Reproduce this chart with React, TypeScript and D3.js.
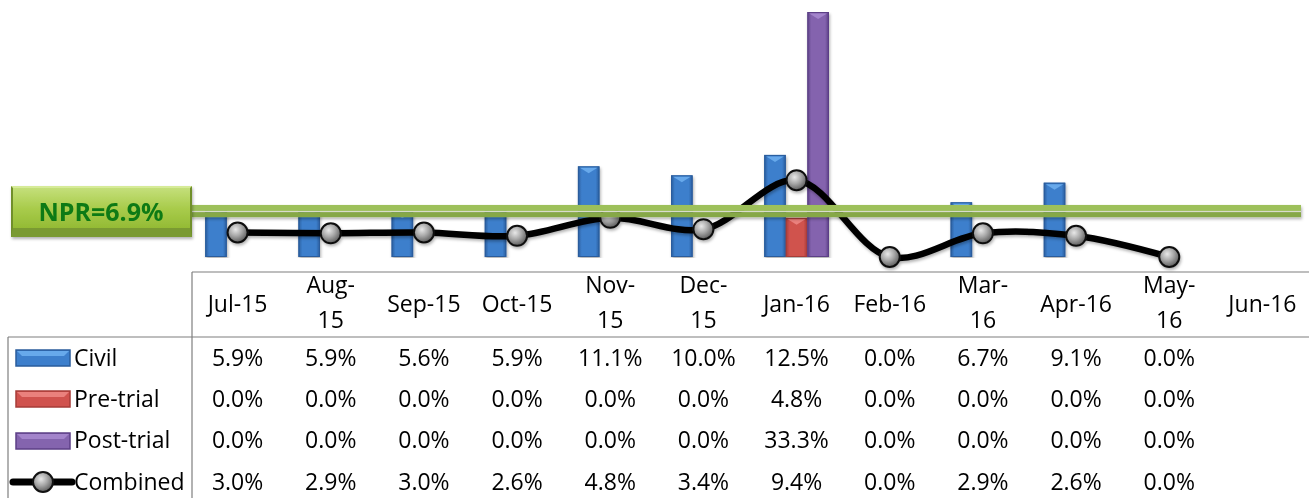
import * as d3 from 'd3';

// month columns of the data table
const categories = ['Jul-15', 'Aug-15', 'Sep-15', 'Oct-15', 'Nov-15', 'Dec-15', 'Jan-16', 'Feb-16', 'Mar-16', 'Apr-16', 'May-16', 'Jun-16'];
// how Excel wrapped the header cells
const headerLines = [['Jul-15'], ['Aug-', '15'], ['Sep-15'], ['Oct-15'], ['Nov-', '15'], ['Dec-', '15'], ['Jan-16'], ['Feb-16'], ['Mar-', '16'], ['Apr-16'], ['May-', '16'], ['Jun-16']];

const civil = [5.9, 5.9, 5.6, 5.9, 11.1, 10.0, 12.5, 0.0, 6.7, 9.1, 0.0, null];
const preTrial = [0.0, 0.0, 0.0, 0.0, 0.0, 0.0, 4.8, 0.0, 0.0, 0.0, 0.0, null];
const postTrial = [0.0, 0.0, 0.0, 0.0, 0.0, 0.0, 33.3, 0.0, 0.0, 0.0, 0.0, null];
const combined = [3.0, 2.9, 3.0, 2.6, 4.8, 3.4, 9.4, 0.0, 2.9, 2.6, 0.0, null];

const yMax = 30;
const nprLabel = 'NPR=6.9%';
const nprLineLevel = 5.7; // where the drawn target line sits on the value axis

const barSeries = [
  { key: 'Civil', values: civil, id: 'civ', edge: '#2a5c9c', mid: '#3d7fcc', hi: '#6fb0f0' },
  { key: 'Pre-trial', values: preTrial, id: 'pre', edge: '#a63c39', mid: '#d0524e', hi: '#ee8a86' },
  { key: 'Post-trial', values: postTrial, id: 'post', edge: '#5c3f86', mid: '#8464ae', hi: '#a88ad0' },
];

const W = 1309;
const H = 498;
const FONT = '"Open Sans", sans-serif';
const fmt = (v: number | null) => (v == null ? '' : `${v.toFixed(1)}%`);

export default function App() {
  const x0 = d3.scaleBand<string>().domain(categories).range([191, 1309]).padding(0);
  const x1 = d3
    .scaleBand<string>()
    .domain(barSeries.map(s => s.key))
    .range([0, x0.bandwidth()])
    .paddingInner(0)
    .paddingOuter(0.66);
  const y = d3.scaleLinear().domain([0, yMax]).range([257, 12]);
  const cx = (c: string) => (x0(c) as number) + x0.bandwidth() / 2;

  const line = d3
    .line<number | null>()
    .defined(v => v != null)
    .x((_, i) => cx(categories[i]))
    .y(v => y(v as number))
    .curve(d3.curveCatmullRom.alpha(0.5));

  const rowBase = [366, 407, 448, 490];
  const rowMid = [358, 399, 441, 482];
  const rows = [civil, preTrial, postTrial, combined];
  const rowNames = ['Civil', 'Pre-trial', 'Post-trial', 'Combined'];
  const nprY = y(nprLineLevel);

  const bar3d = (x: number, top: number, w: number, h: number, s: typeof barSeries[number], key: string) => (
    <g key={key}>
      <rect x={x} y={top} width={w} height={h} fill={`url(#g-${s.id})`} />
      <rect x={x + 0.5} y={top + 0.5} width={w - 1} height={h - 1} fill="none" stroke={s.edge} strokeWidth={1} />
      <polygon points={`${x + 2},${top + 1.5} ${x + w - 2},${top + 1.5} ${x + w / 2},${top + Math.min(7, h)}`} fill={s.hi} opacity={0.85} />
    </g>
  );

  return (
    <svg width={W} height={H} style={{ position: 'absolute', left: 0, top: 0, background: '#fff' }} fontFamily={FONT}>
      <defs>
        {barSeries.map(s => (
          <linearGradient key={s.id} id={`g-${s.id}`} x1="0" x2="1" y1="0" y2="0">
            <stop offset="0" stopColor={s.edge} />
            <stop offset="0.18" stopColor={s.mid} />
            <stop offset="0.82" stopColor={s.mid} />
            <stop offset="1" stopColor={s.edge} />
          </linearGradient>
        ))}
        <radialGradient id="ball" cx="0.4" cy="0.35" r="0.65">
          <stop offset="0" stopColor="#e8e8e8" />
          <stop offset="0.5" stopColor="#a8a8a8" />
          <stop offset="1" stopColor="#5e5e5e" />
        </radialGradient>
        <linearGradient id="nprFace" x1="0" x2="0" y1="0" y2="1">
          <stop offset="0" stopColor="#c4df7a" />
          <stop offset="0.5" stopColor="#a9cc4c" />
          <stop offset="1" stopColor="#94bb35" />
        </linearGradient>
        <filter id="shadow" x="-20%" y="-20%" width="140%" height="160%">
          <feDropShadow dx="1" dy="2" stdDeviation="1.5" floodColor="#000" floodOpacity="0.3" />
        </filter>
        <clipPath id="plot">
          <rect x={180} y={12} width={1130} height={246} />
        </clipPath>
      </defs>

      {/* bars */}
      <g clipPath="url(#plot)" filter="url(#shadow)">
        {categories.map((c, i) =>
          barSeries.map(s => {
            const v = s.values[i];
            if (v == null || v <= 0) return null;
            const top = y(Math.min(v, yMax));
            return bar3d((x0(c) as number) + (x1(s.key) as number), top, x1.bandwidth(), y(0) - top, s, `${s.id}-${i}`);
          })
        )}
      </g>

      {/* combined line */}
      <g filter="url(#shadow)">
        <path d={line(combined) || ''} fill="none" stroke="#000" strokeWidth={6.5} strokeLinejoin="round" />
        {combined.map((v, i) =>
          v == null ? null : (
            <circle key={i} cx={cx(categories[i])} cy={y(v)} r={10} fill="url(#ball)" stroke="#111" strokeWidth={2} />
          )
        )}
      </g>

      {/* NPR target line */}
      <g filter="url(#shadow)">
        <rect x={190} y={nprY - 5.5} width={1111} height={6} fill="#9dc05a" />
        <rect x={190} y={nprY + 0.5} width={1111} height={1.2} fill="#d8dccc" />
        <rect x={190} y={nprY + 1.7} width={1111} height={5} fill="#86a847" />
      </g>

      {/* NPR label box */}
      <g filter="url(#shadow)">
        <rect x={11} y={186} width={181} height={51} fill="#6f8f2c" />
        <polygon points="11,186 192,186 190,188 13,188" fill="#d6eb98" />
        <rect x={13} y={188} width={177} height={40} fill="url(#nprFace)" />
        <polygon points="13,228 190,228 192,237 11,237" fill="#7a9a33" />
        <text x={101} y={221} textAnchor="middle" fontSize={25} fontWeight={700} fill="#0f7a12">
          {nprLabel}
        </text>
      </g>

      {/* data table grid */}
      <g stroke="#7f7f7f" strokeWidth={1.2} fill="none">
        <line x1={192} y1={272} x2={W} y2={272} />
        <line x1={8} y1={337} x2={W} y2={337} />
        <line x1={192} y1={272} x2={192} y2={H} />
        <line x1={8} y1={337} x2={8} y2={H} />
      </g>

      {/* header labels */}
      {categories.map((c, i) => {
        const lines = headerLines[i];
        const base = lines.length === 1 ? [312] : [293, 328];
        return lines.map((t, j) => (
          <text key={`${c}-${j}`} x={cx(c)} y={base[j]} textAnchor="middle" fontSize={23} fill="#000">
            {t}
          </text>
        ));
      })}

      {/* data rows */}
      {rows.map((vals, r) =>
        categories.map((c, i) => (
          <text key={`${r}-${i}`} x={cx(c)} y={rowBase[r]} textAnchor="middle" fontSize={23} fill="#000">
            {fmt(vals[i])}
          </text>
        ))
      )}

      {/* legend keys */}
      {barSeries.map((s, r) => (
        <g key={s.id}>
          <rect x={16} y={rowMid[r] - 8} width={54} height={16} fill={s.mid} stroke={s.edge} strokeWidth={1.5} />
          <polygon points={`${17},${rowMid[r] - 7} ${69},${rowMid[r] - 7} ${64},${rowMid[r] - 2} ${22},${rowMid[r] - 2}`} fill={s.hi} opacity={0.85} />
        </g>
      ))}
      <line x1={13} y1={rowMid[3]} x2={72} y2={rowMid[3]} stroke="#000" strokeWidth={7} strokeLinecap="round" />
      <circle cx={43} cy={rowMid[3]} r={10} fill="url(#ball)" stroke="#111" strokeWidth={2} />
      {rowNames.map((n, r) => (
        <text key={n} x={74} y={rowBase[r]} fontSize={23} fill="#000">
          {n}
        </text>
      ))}
    </svg>
  );
}
